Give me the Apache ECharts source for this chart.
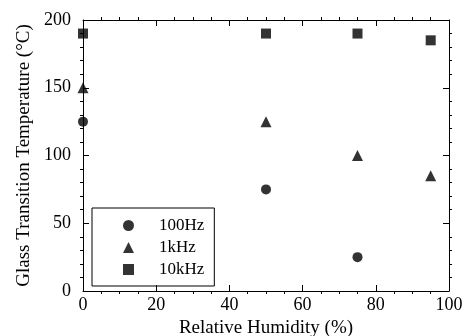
<!DOCTYPE html>
<html>
<head>
<meta charset="utf-8">
<script src="https://cdn.jsdelivr.net/npm/echarts@6/dist/echarts.min.js"></script>
<style>html,body{margin:0;padding:0;background:#fff;}</style>
</head>
<body>
<div id="main" style="width:465px;height:336px"></div>
<script>
// relative humidity (%) vs glass transition temperature (°C)
const hz100 = [[0, 125], [50, 75], [75, 25]];
const khz1 = [[0, 150], [50, 125], [75, 100], [95, 85]];
const khz10 = [[0, 190], [50, 190], [75, 190], [95, 185]];
const seriesNames = ['100Hz', '1kHz', '10kHz'];

const font = 'Liberation Serif';
const myChart = echarts.init(document.getElementById('main'));

const tick = {inside: true, length: 6, lineStyle: {color: '#000'}};
const minor = {show: true, length: -3, lineStyle: {color: '#000'}};

function frameAxis(extra) {
  return Object.assign({
    type: 'value',
    axisLine: {show: true, onZero: false, lineStyle: {color: '#000'}},
    axisTick: tick,
    splitLine: {show: false}
  }, extra);
}

myChart.setOption({
  animation: false,
  backgroundColor: '#fff',
  grid: {left: 83, right: 16, top: 20, bottom: 45, outerBoundsMode: 'none', containLabel: false},
  legend: {
    orient: 'vertical',
    left: 92, top: 208,
    data: seriesNames,
    itemWidth: 11, itemHeight: 11,
    itemGap: 5,
    padding: [9, 10, 8, 31],
    borderColor: '#000', borderWidth: 1,
    textStyle: {fontFamily: font, fontSize: 17, color: '#000', width: 52, padding: [0, 0, 0, 20]}
  },
  xAxis: [
    frameAxis({
      min: 0, max: 100, interval: 20,
      name: 'Relative Humidity (%)', nameLocation: 'middle', nameGap: 26,
      nameTextStyle: {fontFamily: font, fontSize: 19, color: '#000'},
      minorTick: Object.assign({splitNumber: 4}, minor),
      axisLabel: {fontFamily: font, fontSize: 18, color: '#000', margin: 5}
    }),
    frameAxis({
      min: 0, max: 100, interval: 20, position: 'top',
      minorTick: Object.assign({splitNumber: 4}, minor),
      axisLabel: {show: false}
    })
  ],
  yAxis: [
    frameAxis({
      min: 0, max: 200, interval: 50,
      name: 'Glass Transition Temperature (°C)', nameLocation: 'middle', nameGap: 46,
      nameTextStyle: {fontFamily: font, fontSize: 19, color: '#000'},
      minorTick: Object.assign({splitNumber: 5}, minor),
      axisLabel: {fontFamily: font, fontSize: 18, color: '#000', margin: 12}
    }),
    frameAxis({
      min: 0, max: 200, interval: 50, position: 'right',
      minorTick: Object.assign({splitNumber: 5}, minor),
      axisLabel: {show: false}
    })
  ],
  series: [
    {name: '100Hz', type: 'scatter', data: hz100, symbol: 'circle', symbolSize: 10,
      itemStyle: {color: '#000'}},
    {name: '1kHz', type: 'scatter', data: khz1, symbol: 'triangle', symbolSize: 11,
      itemStyle: {color: '#000'}},
    {name: '10kHz', type: 'scatter', data: khz10, symbol: 'rect', symbolSize: 10,
      itemStyle: {color: '#000'}},
    // empty series so the mirrored top/right axes are drawn
    {type: 'scatter', xAxisIndex: 1, yAxisIndex: 1, data: [], silent: true}
  ]
});
</script>
</body>
</html>
